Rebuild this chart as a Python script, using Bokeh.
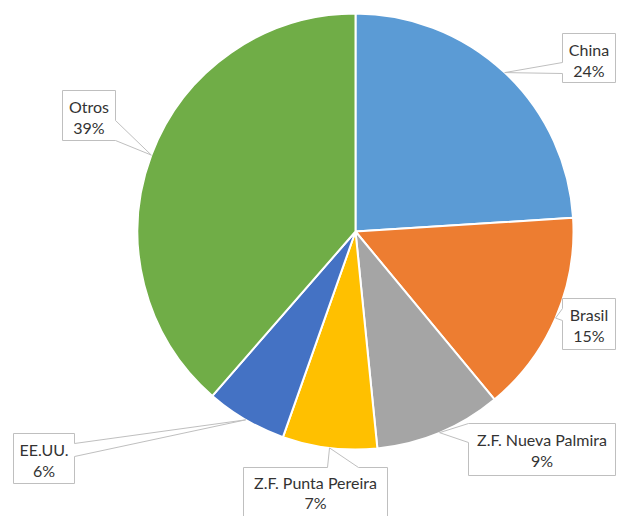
import numpy as np
from bokeh.plotting import figure
from bokeh.models import Range1d
from bokeh.core.properties import value
from bokeh.embed import file_html
from bokeh.resources import INLINE

# ---- data ----
categories = ["China", "Brasil", "Z.F. Nueva Palmira", "Z.F. Punta Pereira", "EE.UU.", "Otros"]
shares = [24.0, 15.0, 9.4, 7.0, 6.0, 38.6]
colors = ["#5B9BD5", "#ED7D31", "#A5A5A5", "#FFC000", "#4472C4", "#70AD47"]
pct_labels = ["24%", "15%", "9%", "7%", "6%", "39%"]

# ---- layout (pixels; data y = -pixel y) ----
CX, CY, R = 355, 231, 218
# callout boxes: left, top, right, bottom, pointer side, base start, base end
boxes = [
    (562, 33, 615, 82, "left", 62, 73),
    (562, 298, 615, 349, "left", 308, 320),
    (468, 423, 615, 475, "left", 423, 442),
    (243, 467, 387, 530, "top", 327, 358),
    (13, 433, 74, 483, "right", 443, 456),
    (62, 90, 115, 140, "right", 120, 140),
]
line1_dy = [16, 16, 16, 15, 16, 16]
line2_dy = [37, 37, 37, 35, 37, 37]

p = figure(width=617, height=516, output_backend="svg", toolbar_location=None,
           x_range=Range1d(0, 617), y_range=Range1d(-516, 0), min_border=0)
p.axis.visible = False
p.grid.visible = False
p.outline_line_color = None
p.background_fill_color = "white"
p.border_fill_color = "white"

frac = np.array(shares) / sum(shares)
cum = np.concatenate([[0], np.cumsum(frac)])
start = np.pi / 2 - cum[:-1] * 2 * np.pi
end = np.pi / 2 - cum[1:] * 2 * np.pi

p.wedge(x=CX, y=-CY, radius=R, start_angle=start, end_angle=end, direction="clock",
        fill_color=colors, line_color="white", line_width=2)

mid = (cum[:-1] + cum[1:]) / 2 * 2 * np.pi
tips_x = CX + R * np.sin(mid)
tips_y = CY - R * np.cos(mid)

xs, ys = [], []
for (l, t, r, b, side, b1, b2), tx, ty in zip(boxes, tips_x, tips_y):
    if side == "left":
        pts = [(l, t), (r, t), (r, b), (l, b), (l, b2), (tx, ty), (l, b1)]
    elif side == "right":
        pts = [(l, t), (r, t), (r, b1), (tx, ty), (r, b2), (r, b), (l, b)]
    else:  # top
        pts = [(l, t), (b1, t), (tx, ty), (b2, t), (r, t), (r, b), (l, b)]
    xs.append([q[0] for q in pts])
    ys.append([-q[1] for q in pts])

p.patches(xs=xs, ys=ys, fill_color="white", line_color="#BFBFBF", line_width=1)

cxs = [(bx[0] + bx[2]) / 2 for bx in boxes]
l1y = [-(bx[1] + d) for bx, d in zip(boxes, line1_dy)]
l2y = [-(bx[1] + d) for bx, d in zip(boxes, line2_dy)]
p.text(x=cxs, y=l1y, text=categories, text_align="center", text_baseline="middle",
       text_font=value("Lato"), text_font_size="16px", text_color="#333333")
p.text(x=cxs, y=l2y, text=pct_labels, text_align="center", text_baseline="middle",
       text_font=value("Lato"), text_font_size="16px", text_color="#333333")

open("out.html", "w").write(file_html(p, INLINE))
